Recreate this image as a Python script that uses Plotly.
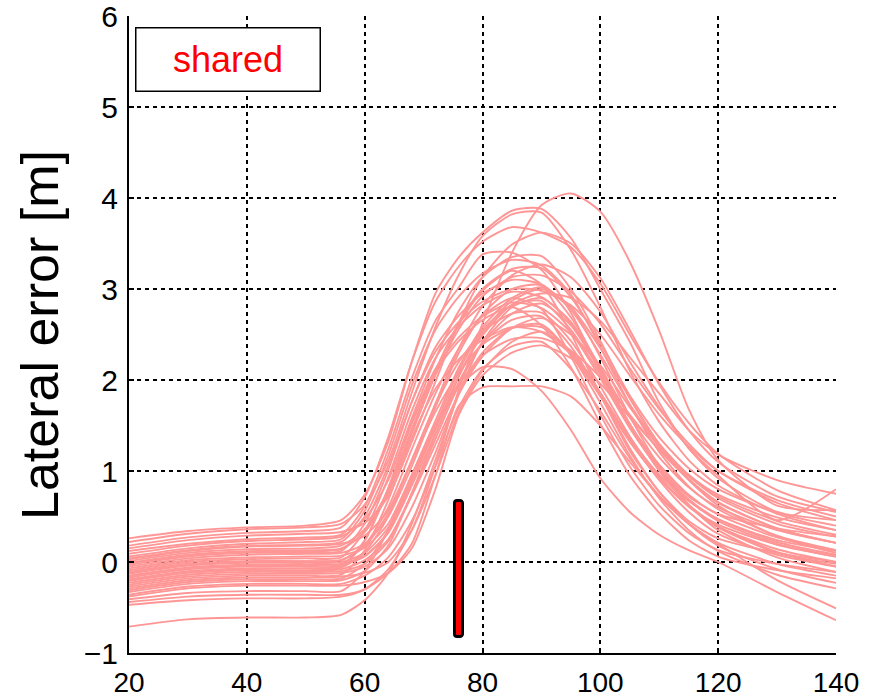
import plotly.graph_objects as go

# Longitudinal position [m] at which every run was sampled
position = [20, 30, 40, 50, 56, 60, 64, 68, 72, 76, 80, 85, 90, 95, 100, 105, 110, 115, 120, 130, 140]

# Lateral error [m] of each run, one list per run
lateral_error_runs = [
    [0.26, 0.34, 0.38, 0.40, 0.46, 0.74, 1.32, 2.20, 2.95, 3.35, 3.62, 3.86, 3.88, 3.56, 3.00, 2.42, 1.75, 1.25, 0.92, 0.55, 0.46],
    [0.22, 0.31, 0.36, 0.38, 0.42, 0.63, 1.11, 1.86, 2.58, 3.16, 3.58, 3.82, 3.84, 3.43, 2.80, 2.10, 1.54, 1.12, 0.84, 0.53, 0.35],
    [0.18, 0.27, 0.32, 0.34, 0.38, 0.71, 1.37, 2.20, 2.86, 3.25, 3.52, 3.68, 3.62, 3.46, 3.06, 2.50, 1.97, 1.53, 1.19, 0.79, 0.57],
    [0.15, 0.24, 0.29, 0.31, 0.33, 0.43, 0.72, 1.32, 1.98, 2.63, 3.13, 3.49, 3.62, 3.50, 3.12, 2.55, 1.95, 1.45, 1.10, 0.72, 0.55],
    [0.12, 0.20, 0.25, 0.27, 0.30, 0.61, 1.24, 2.02, 2.65, 3.02, 3.38, 3.40, 3.21, 2.74, 2.08, 1.48, 1.04, 0.72, 0.53, 0.37, 0.28],
    [0.09, 0.18, 0.23, 0.25, 0.28, 0.47, 0.90, 1.58, 2.23, 2.76, 3.13, 3.35, 3.36, 3.00, 2.43, 1.80, 1.29, 0.91, 0.65, 0.37, 0.21],
    [0.06, 0.15, 0.20, 0.22, 0.25, 0.56, 1.17, 1.94, 2.55, 2.92, 3.17, 3.32, 3.26, 2.94, 2.36, 1.73, 1.21, 0.83, 0.58, 0.29, 0.13],
    [0.03, 0.12, 0.17, 0.18, 0.20, 0.29, 0.57, 1.12, 1.74, 2.35, 2.81, 3.15, 3.27, 3.13, 2.75, 2.20, 1.70, 1.25, 0.95, 0.46, 0.80],
    [0.01, 0.10, 0.14, 0.15, 0.18, 0.36, 0.79, 1.46, 2.10, 2.61, 2.98, 3.20, 3.05, 2.51, 1.84, 1.22, 0.77, 0.45, 0.26, 0.10, 0.00],
    [-0.01, 0.08, 0.12, 0.13, 0.15, 0.33, 0.75, 1.41, 2.05, 2.56, 2.92, 3.13, 3.15, 2.97, 2.62, 2.13, 1.68, 1.30, 1.00, 0.65, 0.46],
    [-0.03, 0.06, 0.10, 0.11, 0.12, 0.42, 1.01, 1.76, 2.36, 2.71, 2.95, 3.10, 3.05, 2.77, 2.28, 1.73, 1.29, 0.96, 0.74, 0.49, 0.35],
    [-0.05, 0.04, 0.08, 0.09, 0.10, 0.20, 0.50, 1.05, 1.70, 2.30, 2.72, 3.00, 3.04, 2.69, 2.13, 1.51, 1.01, 0.63, 0.39, 0.11, -0.05],
    [-0.07, 0.02, 0.05, 0.06, 0.07, 0.16, 0.42, 0.96, 1.55, 2.14, 2.58, 2.90, 3.02, 2.80, 2.35, 1.80, 1.30, 0.95, 0.70, 0.42, 0.28],
    [-0.09, 0.00, 0.03, 0.04, 0.05, 0.34, 0.93, 1.66, 2.24, 2.59, 2.82, 2.97, 2.91, 2.64, 2.14, 1.59, 1.15, 0.82, 0.60, 0.35, 0.21],
    [-0.11, -0.02, 0.01, 0.01, 0.02, 0.19, 0.60, 1.24, 1.85, 2.35, 2.70, 2.90, 2.78, 2.26, 1.62, 1.05, 0.62, 0.32, 0.13, -0.02, -0.11],
    [-0.13, -0.04, -0.01, -0.01, 0.00, 0.10, 0.38, 0.90, 1.50, 2.10, 2.55, 2.82, 2.87, 2.55, 2.06, 1.51, 1.07, 0.74, 0.52, 0.27, 0.13],
    [-0.15, -0.06, -0.03, -0.03, -0.02, 0.07, 0.32, 0.84, 1.41, 1.98, 2.41, 2.73, 2.84, 2.60, 2.10, 1.52, 1.03, 0.68, 0.45, 0.20, 0.06],
    [-0.17, -0.08, -0.05, -0.05, -0.04, 0.24, 0.81, 1.52, 2.09, 2.43, 2.66, 2.80, 2.60, 2.14, 1.52, 0.95, 0.54, 0.24, 0.06, -0.09, -0.18],
    [-0.19, -0.10, -0.07, -0.07, -0.06, 0.11, 0.50, 1.12, 1.72, 2.20, 2.53, 2.73, 2.74, 2.43, 1.93, 1.38, 0.94, 0.61, 0.39, 0.14, 0.00],
    [-0.21, -0.12, -0.09, -0.09, -0.08, 0.02, 0.25, 0.75, 1.35, 1.95, 2.40, 2.66, 2.70, 2.37, 1.84, 1.25, 0.77, 0.42, 0.18, -0.08, -0.23],
    [-0.23, -0.14, -0.11, -0.11, -0.10, -0.02, 0.23, 0.73, 1.29, 1.85, 2.26, 2.57, 2.68, 2.50, 2.16, 1.70, 1.26, 0.90, 0.62, 0.28, 0.10],
    [-0.25, -0.16, -0.13, -0.13, -0.12, -0.05, 0.15, 0.60, 1.20, 1.85, 2.30, 2.57, 2.61, 2.28, 1.75, 1.17, 0.70, 0.35, 0.12, -0.14, -0.29],
    [-0.27, -0.18, -0.15, -0.15, -0.14, 0.13, 0.68, 1.36, 1.90, 2.23, 2.44, 2.58, 2.53, 2.28, 1.82, 1.32, 0.92, 0.61, 0.41, 0.19, 0.06],
    [-0.29, -0.20, -0.17, -0.17, -0.16, -0.12, 0.00, 0.35, 0.95, 1.65, 2.10, 2.42, 2.53, 2.32, 1.86, 1.34, 0.90, 0.55, 0.31, 0.08, -0.05],
    [-0.31, -0.22, -0.19, -0.19, -0.18, -0.02, 0.35, 0.94, 1.50, 1.95, 2.27, 2.45, 2.46, 2.32, 2.03, 1.62, 1.23, 0.91, 0.66, 0.37, 0.21],
    [-0.33, -0.24, -0.21, -0.21, -0.20, -0.10, 0.18, 0.76, 1.40, 2.04, 2.52, 2.87, 3.00, 2.80, 2.25, 1.60, 1.05, 0.63, 0.35, 0.05, -0.11],
    [-0.36, -0.27, -0.24, -0.24, -0.24, -0.15, 0.05, 0.45, 1.05, 1.70, 2.12, 2.37, 2.42, 2.12, 1.66, 1.14, 0.73, 0.42, 0.21, -0.02, -0.15],
    [-0.38, -0.29, -0.26, -0.26, -0.26, -0.22, -0.12, 0.15, 0.80, 1.62, 2.05, 2.30, 2.38, 2.24, 1.96, 1.59, 1.24, 0.94, 0.72, 0.45, 0.30],
    [-0.41, -0.34, -0.32, -0.32, -0.32, -0.10, 0.35, 0.95, 1.50, 1.92, 2.14, 2.12, 1.88, 1.45, 0.92, 0.55, 0.30, 0.13, 0.00, -0.33, -0.64],
    [-0.44, -0.38, -0.36, -0.36, -0.36, -0.30, -0.12, 0.20, 0.95, 1.72, 1.92, 1.93, 1.93, 1.82, 1.50, 1.10, 0.72, 0.42, 0.20, -0.20, -0.51],
    [-0.71, -0.63, -0.61, -0.61, -0.58, -0.42, -0.12, 0.42, 1.12, 1.85, 2.42, 2.80, 2.90, 2.62, 2.10, 1.50, 1.00, 0.62, 0.38, 0.10, -0.02],
    [-0.47, -0.42, -0.40, -0.40, -0.38, -0.30, -0.08, 0.35, 1.05, 1.90, 2.62, 3.40, 3.92, 4.05, 3.85, 3.30, 2.54, 1.68, 1.12, 0.62, 0.57],
    [0.04, 0.13, 0.18, 0.19, 0.22, 0.50, 1.06, 1.76, 2.31, 2.64, 2.86, 3.00, 2.98, 2.82, 2.50, 2.05, 1.62, 1.27, 1.00, 0.68, 0.50],
    [-0.12, -0.03, 0.00, 0.01, 0.02, 0.17, 0.54, 1.10, 1.65, 2.08, 2.39, 2.57, 2.58, 2.30, 1.86, 1.36, 0.96, 0.67, 0.47, 0.24, 0.12],
    [-0.02, 0.07, 0.11, 0.12, 0.14, 0.33, 0.76, 1.45, 2.10, 2.63, 3.00, 3.22, 3.23, 2.91, 2.40, 1.83, 1.37, 1.03, 0.80, 0.54, 0.40],
    [-0.20, -0.11, -0.08, -0.07, -0.06, 0.23, 0.81, 1.54, 2.12, 2.47, 2.70, 2.85, 2.79, 2.52, 2.02, 1.47, 1.02, 0.69, 0.47, 0.22, 0.08],
    [-0.16, -0.07, -0.04, -0.04, -0.03, 0.06, 0.33, 0.88, 1.46, 2.05, 2.49, 2.83, 2.95, 2.90, 2.65, 2.25, 1.85, 1.45, 1.18, 0.90, 0.75],
]

# Marker bar position and extent
bar_position = 76
bar_bottom = -0.82
bar_top = 0.67

x_ticks = [20, 40, 60, 80, 100, 120, 140]
y_ticks = [-1, 0, 1, 2, 3, 4, 5, 6]

FONT = "Arial, Liberation Sans, sans-serif"

fig = go.Figure()

for run in lateral_error_runs:
    fig.add_trace(go.Scatter(
        x=position, y=run, mode="lines",
        line=dict(color="#ff9696", width=1.9, shape="spline", smoothing=0.7),
        hoverinfo="skip", showlegend=False,
    ))

fig.add_trace(go.Bar(
    x=[bar_position], y=[bar_top - bar_bottom], base=[bar_bottom],
    width=1.3,
    marker=dict(color="#ff0000", line=dict(color="black", width=3), cornerradius=3),
    showlegend=False, hoverinfo="skip",
))

# plot-area geometry in pixels
L, R, T, B = 129, 44, 16, 45
W, H = 880, 698
pw, ph = W - L - R, H - T - B

def px_to_paper(px, py):
    return (px - L) / pw, (H - B - py) / ph

lx, ly = px_to_paper(227.5, 59)
fig.add_annotation(
    x=lx, y=ly, xref="paper", yref="paper", xanchor="center", yanchor="middle",
    text="shared", showarrow=False,
    font=dict(family=FONT, size=36, color="#ff0000"),
    bordercolor="black", borderwidth=1.5, borderpad=0, bgcolor="white",
    width=183, height=62,
)

tx, ty = px_to_paper(40, 335)
fig.add_annotation(
    x=tx, y=ty, xref="paper", yref="paper", xanchor="center", yanchor="middle",
    text="Lateral error [m]", showarrow=False, textangle=-90,
    font=dict(family=FONT, size=52, color="black"),
)

axis_common = dict(
    showgrid=True, gridcolor="black", gridwidth=2, griddash="4px,4px",
    zeroline=False, showline=True, linecolor="black", linewidth=2,
    ticks="inside", ticklen=5, tickcolor="black", tickwidth=1.5,
    mirror=False, automargin=False, ticklabeloverflow="allow",
)

fig.update_xaxes(range=[20, 140], tickvals=x_ticks, ticklabelstandoff=3,
                 tickfont=dict(family=FONT, size=28, color="black"), **axis_common)
fig.update_yaxes(range=[-1, 6], tickvals=y_ticks, ticklabelstandoff=3,
                 tickfont=dict(family=FONT, size=30, color="black"), **axis_common)

fig.update_layout(
    width=W, height=H,
    margin=dict(l=L, r=R, t=T, b=B),
    plot_bgcolor="white", paper_bgcolor="white",
    barmode="overlay", bargap=0,
    font=dict(family=FONT),
)

fig.write_html("out.html")
